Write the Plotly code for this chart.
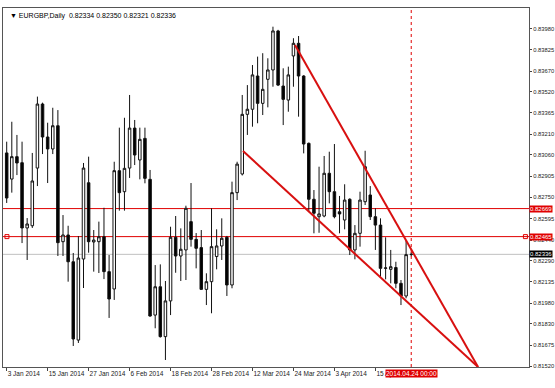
import plotly.graph_objects as go
import pandas as pd

dates = [d.strftime('%Y-%m-%d') for d in pd.bdate_range('2014-01-03', periods=80)]
bar_idx = list(range(len(dates)))

opens = [0.83074, 0.82884, 0.83047, 0.83003, 0.82528, 0.82544, 0.82964, 0.83430, 0.83190, 0.83103,
         0.83272, 0.82428, 0.82477, 0.82282, 0.81712, 0.82302, 0.82857, 0.82426, 0.82428, 0.82464,
         0.82210, 0.82084, 0.82945, 0.82792, 0.82964, 0.83255, 0.83023, 0.83180, 0.82882, 0.81894,
         0.82100, 0.81737, 0.81997, 0.82460, 0.82324, 0.82368, 0.82574, 0.82445, 0.82385, 0.82081,
         0.82137, 0.82320, 0.82397, 0.82460, 0.82113, 0.82785, 0.82921, 0.83355, 0.83392, 0.83634,
         0.83435, 0.83610, 0.83678, 0.83962, 0.83561, 0.83459, 0.83780, 0.83872, 0.83634, 0.83144,
         0.82737, 0.82610, 0.82615, 0.82926, 0.82792, 0.82646, 0.82586, 0.82737, 0.82368, 0.82489,
         0.82719, 0.82768, 0.82610, 0.82549, 0.82234, 0.82227, 0.82240, 0.82125, 0.82033, 0.82334]
highs = [0.83156, 0.83301, 0.83205, 0.83156, 0.82600, 0.83074, 0.83484, 0.83440, 0.83294, 0.83403,
         0.83386, 0.82622, 0.82544, 0.82346, 0.82469, 0.83001, 0.83047, 0.82513, 0.82574, 0.82675,
         0.82331, 0.83010, 0.83258, 0.83330, 0.83496, 0.83314, 0.83258, 0.83258, 0.82950, 0.82258,
         0.82263, 0.82142, 0.82537, 0.82615, 0.82525, 0.82690, 0.82855, 0.82491, 0.82513, 0.82198,
         0.82671, 0.82518, 0.82598, 0.82470, 0.82865, 0.83010, 0.83496, 0.83568, 0.83714, 0.83775,
         0.83800, 0.83763, 0.83993, 0.83970, 0.83690, 0.83702, 0.83909, 0.83925, 0.83640, 0.83150,
         0.82804, 0.82974, 0.83052, 0.83083, 0.83139, 0.82761, 0.82846, 0.82744, 0.82549, 0.82792,
         0.83090, 0.82833, 0.82671, 0.82598, 0.82460, 0.82368, 0.82282, 0.82149, 0.82440, 0.82350]
lows = [0.82710, 0.82785, 0.82913, 0.82418, 0.82295, 0.82528, 0.82833, 0.83066, 0.82855, 0.83066,
        0.82324, 0.82324, 0.82137, 0.81669, 0.81691, 0.82091, 0.82348, 0.82210, 0.82200, 0.82156,
        0.81873, 0.82004, 0.82654, 0.82654, 0.82892, 0.82986, 0.82882, 0.82853, 0.81882, 0.81798,
        0.81730, 0.81567, 0.81894, 0.82202, 0.82142, 0.82149, 0.82392, 0.82234, 0.82077, 0.81967,
        0.81907, 0.82227, 0.82295, 0.82033, 0.82089, 0.82731, 0.82910, 0.83205, 0.83265, 0.83290,
        0.83350, 0.83406, 0.83556, 0.83561, 0.83277, 0.83374, 0.83556, 0.83338, 0.83071, 0.82646,
        0.82489, 0.82493, 0.82606, 0.82707, 0.82598, 0.82489, 0.82518, 0.82331, 0.82300, 0.82392,
        0.82695, 0.82586, 0.82368, 0.82173, 0.82154, 0.82125, 0.82089, 0.81967, 0.82016, 0.82321]
closes = [0.82746, 0.83047, 0.83001, 0.82528, 0.82557, 0.82870, 0.83430, 0.83190, 0.83103, 0.83272,
          0.82421, 0.82477, 0.82282, 0.81720, 0.82309, 0.82964, 0.82428, 0.82440, 0.82464, 0.82210,
          0.82011, 0.82945, 0.82785, 0.82962, 0.83255, 0.83059, 0.83173, 0.82889, 0.81887, 0.82100,
          0.81737, 0.81997, 0.82460, 0.82324, 0.82373, 0.82671, 0.82445, 0.82380, 0.82081, 0.82137,
          0.82392, 0.82397, 0.82453, 0.82113, 0.82785, 0.82993, 0.83355, 0.83392, 0.83642, 0.83435,
          0.83537, 0.83678, 0.83962, 0.83568, 0.83464, 0.83642, 0.83872, 0.83634, 0.83139, 0.82737,
          0.82635, 0.82630, 0.82926, 0.82792, 0.82610, 0.82630, 0.82731, 0.82368, 0.82489, 0.82731,
          0.82974, 0.82610, 0.82549, 0.82234, 0.82237, 0.82246, 0.82125, 0.82033, 0.82334, 0.82336]

price_ticks = [0.83980, 0.83825, 0.83670, 0.83520, 0.83365, 0.83210, 0.83060, 0.82905, 0.82750,
               0.82595, 0.82440, 0.82290, 0.82135, 0.81980, 0.81830, 0.81675, 0.81520]
date_tick_idx = [0, 8, 16, 24, 32, 40, 48, 56, 64, 72]
date_tick_text = ['3 Jan 2014', '15 Jan 2014', '27 Jan 2014', '6 Feb 2014', '18 Feb 2014',
                  '28 Feb 2014', '12 Mar 2014', '24 Mar 2014', '3 Apr 2014', '15 Apr 2014']

hlines = [0.82669, 0.82465]
bid = 0.82336
upper_trend = [(56.3, 0.83860), (92.05, 0.81516)]
lower_trend = [(46.15, 0.83088), (92.05, 0.81516)]
vline_idx = 79
vline_label = '2014.04.24 00:00'
title = '▼ EURGBP,Daily  0.82334 0.82350 0.82321 0.82336'

RED = '#e00000'
y_lo, y_hi = 0.81516, 0.84129
x_lo, x_hi = -0.72, 102.0

fig = go.Figure()
fig.add_trace(go.Candlestick(
    x=bar_idx, open=opens, high=highs, low=lows, close=closes,
    increasing=dict(line=dict(color='#111111', width=1), fillcolor='white'),
    decreasing=dict(line=dict(color='#111111', width=1), fillcolor='black'),
    whiskerwidth=0, showlegend=False, hoverinfo='skip'))

fig.add_trace(go.Scatter(x=[0.05, 101.3], y=[hlines[1], hlines[1]], mode='markers',
                         marker=dict(symbol='square-open', size=4, color=RED, line=dict(width=1)),
                         showlegend=False, hoverinfo='skip', cliponaxis=False))

shapes = []
for h in hlines:
    shapes.append(dict(type='line', xref='paper', x0=0, x1=1, yref='y', y0=h, y1=h,
                       line=dict(color=RED, width=1), layer='below'))
shapes.append(dict(type='line', xref='paper', x0=0, x1=1, yref='y', y0=bid, y1=bid,
                   line=dict(color='#c0c0c0', width=1), layer='below'))
shapes.append(dict(type='line', xref='x', x0=vline_idx, x1=vline_idx, yref='paper', y0=0, y1=1,
                   line=dict(color=RED, width=1, dash='dot')))
for tl in (upper_trend, lower_trend):
    shapes.append(dict(type='line', xref='x', yref='y', x0=tl[0][0], y0=tl[0][1],
                       x1=tl[1][0], y1=tl[1][1], line=dict(color='#d81010', width=2)))

annotations = [
    dict(text=title, xref='paper', yref='paper', x=0, y=1, xanchor='left', yanchor='top',
         xshift=5, yshift=-2, showarrow=False, font=dict(size=7, color='black')),
]
for h in hlines:
    annotations.append(dict(text=f'{h:.5f}', xref='paper', yref='y', x=1, y=h, xanchor='left',
                            yanchor='middle', xshift=0, showarrow=False, bgcolor=RED,
                            borderpad=0, font=dict(size=6, color='white')))
annotations.append(dict(text=f'{bid:.5f}', xref='paper', yref='y', x=1, y=bid, xanchor='left',
                        yanchor='middle', xshift=0, showarrow=False, bgcolor='black',
                        borderpad=0, font=dict(size=6, color='white')))
annotations.append(dict(text=vline_label, xref='x', yref='paper', x=vline_idx, y=0,
                        xanchor='center', yanchor='top', yshift=-2, showarrow=False,
                        bgcolor=RED, borderpad=0, font=dict(size=6.5, color='white')))

fig.update_layout(
    width=555, height=388,
    margin=dict(l=3, r=26, t=8, b=21),
    paper_bgcolor='white', plot_bgcolor='white',
    font=dict(family='Liberation Sans, Arial, sans-serif', size=7, color='#222'),
    shapes=shapes, annotations=annotations,
    xaxis=dict(range=[x_lo, x_hi], rangeslider=dict(visible=False), automargin=False,
               tickmode='array', tickvals=date_tick_idx, ticktext=date_tick_text, tickangle=0,
               ticklabelposition='outside right', ticks='outside', ticklen=3, tickcolor='#444',
               showgrid=False, showline=True, linecolor='#555', linewidth=1, mirror=True,
               zeroline=False, tickfont=dict(size=6.5)),
    yaxis=dict(side='right', range=[y_lo, y_hi], tickmode='array', tickvals=price_ticks,
               automargin=False, tickformat='.5f', ticks='outside', ticklen=2, tickcolor='#444',
               showgrid=False, showline=True, linecolor='#555', linewidth=1, mirror=True,
               zeroline=False, tickfont=dict(size=5.8)),
)

fig.write_html('out.html')
